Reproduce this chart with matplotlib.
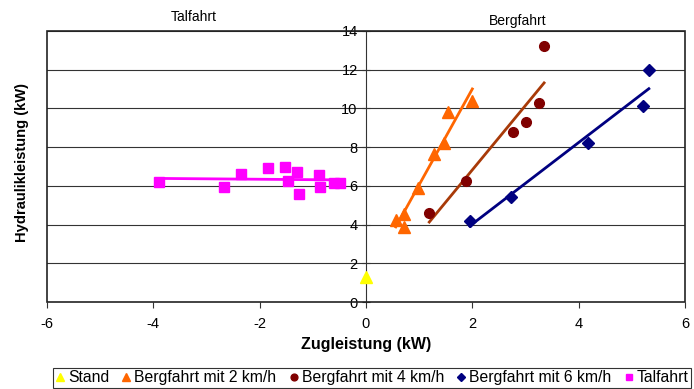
import numpy as np
import matplotlib
matplotlib.use("Agg")
import matplotlib.pyplot as plt
from matplotlib.patches import Rectangle

plt.rcParams['font.family'] = ['Liberation Sans', 'DejaVu Sans']
plt.rcParams['axes.unicode_minus'] = False

# Data
stand_x = [0.0]
stand_y = [1.3]

berg2_x = [0.56, 0.72, 0.71, 0.97, 1.27, 1.47, 1.55, 2.0]
berg2_y = [4.25, 4.55, 3.9, 5.9, 7.64, 8.2, 9.84, 10.36]

berg4_x = [1.19, 1.89, 2.77, 3.0, 3.26, 3.35]
berg4_y = [4.6, 6.25, 8.8, 9.29, 10.3, 13.23]

berg6_x = [1.95, 2.73, 4.18, 5.21, 5.32]
berg6_y = [4.2, 5.42, 8.19, 10.1, 12.0]

tal_x = [-3.90, -2.68, -2.36, -1.85, -1.52, -1.30, -1.47, -1.26, -0.88, -0.87, -0.60, -0.49]
tal_y = [6.20, 5.94, 6.60, 6.94, 7.00, 6.72, 6.23, 5.56, 6.55, 5.94, 6.16, 6.15]

labels = ["Stand", "Bergfahrt mit 2 km/h", "Bergfahrt mit 4 km/h",
          "Bergfahrt mit 6 km/h", "Talfahrt"]
x_ticks = [-6, -4, -2, 0, 2, 4, 6]
y_ticks = [0, 2, 4, 6, 8, 10, 12, 14]

fig = plt.figure(figsize=(6.94, 3.89), dpi=100)
ax = fig.add_axes([47/694, 1-302/389, (685-47)/694, (302-31)/389])
ax.set_xlim(-6, 6)
ax.set_ylim(0, 14)

for yv in y_ticks[1:]:
    ax.axhline(yv, color='#333333', lw=0.8, zorder=1)

def trend(xs, ys, color):
    xs = np.asarray(xs); ys = np.asarray(ys)
    k, d = np.polyfit(xs, ys, 1)
    xx = np.array([xs.min(), xs.max()])
    ax.plot(xx, k*xx + d, color=color, lw=2, zorder=3)

h1, = ax.plot(stand_x, stand_y, ls='none', marker='^', ms=9, color='#FFFF00', zorder=4)
h2, = ax.plot(berg2_x, berg2_y, ls='none', marker='^', ms=8, color='#FF6600', zorder=4)
h3, = ax.plot(berg4_x, berg4_y, ls='none', marker='o', ms=7, color='#800000', zorder=4)
h4, = ax.plot(berg6_x, berg6_y, ls='none', marker='D', ms=6, color='#000080', zorder=4)
h5, = ax.plot(tal_x, tal_y, ls='none', marker='s', ms=7, color='#FF00FF', zorder=4)

trend(berg2_x, berg2_y, '#FF6600')
trend(berg4_x, berg4_y, '#A83A08')
trend(berg6_x, berg6_y, '#000080')
trend(tal_x, tal_y, '#FF00FF')

for s in ['top', 'right', 'bottom']:
    ax.spines[s].set_visible(False)
ax.spines['left'].set_position(('data', 0))
ax.spines['left'].set_color('#333333')
ax.spines['left'].set_linewidth(0.8)
ax.add_patch(Rectangle((0, 0), 1, 1, transform=ax.transAxes, fill=False,
                       ec='#222222', lw=1.2, zorder=5, clip_on=False))

ax.set_xticks(x_ticks)
ax.set_yticks(y_ticks)
ax.tick_params(axis='x', labelsize=10.5, length=4, width=0.8, color='#333333', pad=7)
ax.tick_params(axis='y', labelsize=10.5, length=6, width=0.8, color='#333333',
               direction='inout', pad=3)
fig.text(366/694, 1-344/389, "Zugleistung (kW)", fontsize=11.5, fontweight='bold',
         ha='center', va='center')
fig.text(22/694, 1-162/389, "Hydraulikleistung (kW)", rotation=90, fontsize=10.6,
         fontweight='bold', ha='center', va='center')

fig.text(194/694, 1-17/389, "Talfahrt", fontsize=10, ha='center', va='center')
fig.text(518/694, 1-21/389, "Bergfahrt", fontsize=10, ha='center', va='center')

leg = fig.legend([h1, h2, h3, h4, h5], labels, loc='upper left', ncol=5,
                 bbox_to_anchor=(53/694, 1-368/389), fontsize=11.3, frameon=True,
                 fancybox=False, edgecolor='black', handlelength=0.6,
                 handletextpad=0.2, columnspacing=0.8, borderpad=0.15,
                 markerscale=0.7, borderaxespad=0)
leg.get_frame().set_linewidth(0.8)

fig.savefig("out.png", dpi=100)
